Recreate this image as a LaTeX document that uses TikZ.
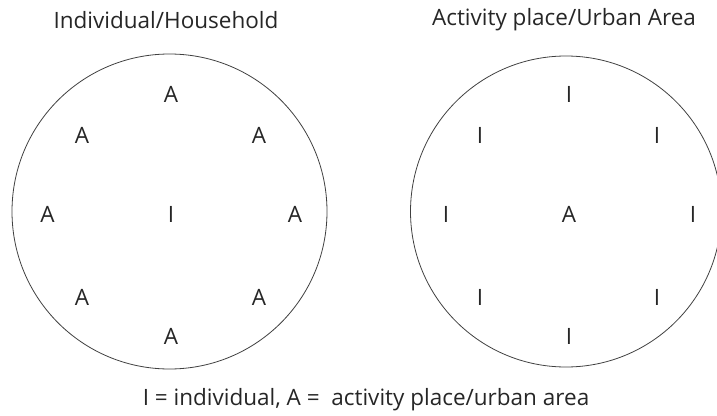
\documentclass[tikz,border=0pt]{standalone}
\usepackage{fontspec}
\setmainfont{Open Sans}
\begin{document}
\begin{tikzpicture}[x=1pt,y=-1pt,
  lbl/.style={inner sep=0pt,anchor=center,font=\fontsize{22.5}{26}\selectfont,text=black!85},
  ring/.style={draw=black!75,line width=0.8pt}]
\useasboundingbox (0,0) rectangle (717,415);
\clip (0,0) rectangle (717,415);
\node[lbl] (t1) at (166,20) {Individual/Household};
\node[lbl] (t2) at (564,20) {Activity place/Urban Area};
\draw[ring] (169.5,211.5) circle (157.5);
\draw[ring] (566,211.5) circle (155.5);
% left circle
\node[lbl] (la1) at (171,94.6) {A};
\node[lbl] (la2) at (82,135.5) {A};
\node[lbl] (la3) at (259,135.5) {A};
\node[lbl] (la4) at (47.5,214) {A};
\node[lbl] (li) at (171,214) {I};
\node[lbl] (la5) at (295,214) {A};
\node[lbl] (la6) at (82,297.7) {A};
\node[lbl] (la7) at (259,297.7) {A};
\node[lbl] (la8) at (171,336) {A};
% right circle
\node[lbl] (ri1) at (569,94.6) {I};
\node[lbl] (ri2) at (480,135.5) {I};
\node[lbl] (ri3) at (657,135.5) {I};
\node[lbl] (ri4) at (446,214) {I};
\node[lbl] (ra) at (569,214) {A};
\node[lbl] (ri5) at (693,214) {I};
\node[lbl] (ri6) at (480,297.7) {I};
\node[lbl] (ri7) at (657,297.7) {I};
\node[lbl] (ri8) at (569,336) {I};
\node[lbl] (cap) at (366,400) {I = individual, A = \ activity place/urban area};
\end{tikzpicture}
\end{document}
